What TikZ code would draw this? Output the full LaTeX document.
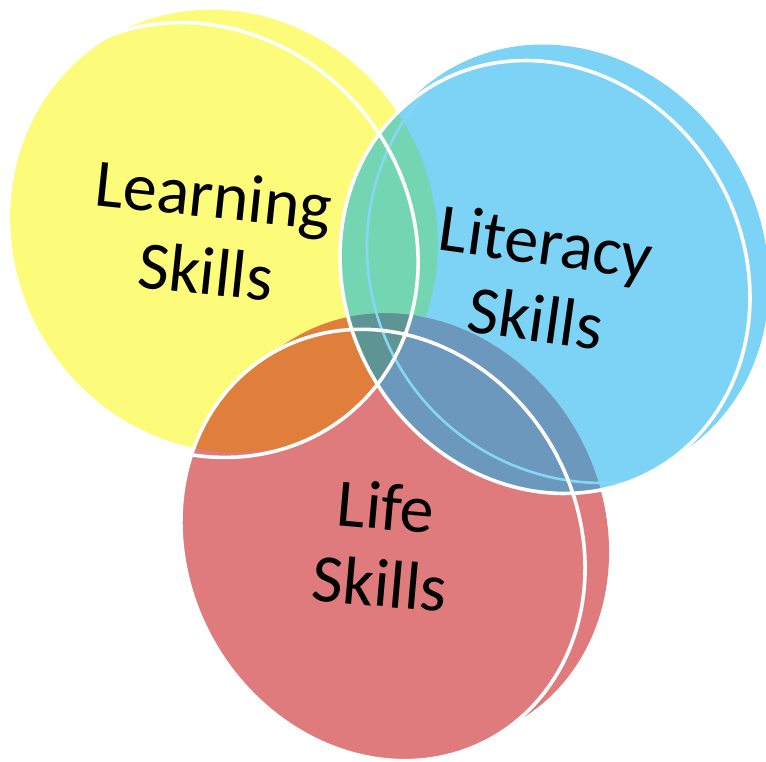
\documentclass[tikz,border=0pt]{standalone}
\usepackage{fontspec}
\setmainfont{Carlito}
\definecolor{yellowc}{HTML}{FCFB7A}
\definecolor{bluec}{HTML}{7DD3F5}
\definecolor{redc}{HTML}{DF7B7C}
\definecolor{greenc}{HTML}{74D5B3}
\definecolor{orangec}{HTML}{E07E3B}
\definecolor{steelc}{HTML}{6C98BD}
\definecolor{tealc}{HTML}{5E9494}
\definecolor{lightb}{HTML}{86D6F6}
\begin{document}
\begin{tikzpicture}[x=1pt,y=-1pt,
  wline/.style={draw=white,line width=3.6pt},
  lline/.style={draw=lightb,line width=2.6pt},
  lbl/.style={align=center,text=black,font=\fontsize{68}{77}\selectfont,inner sep=0pt}]
\useasboundingbox (0,0) rectangle (766,762);
% ellipses: centre, semi-axes, angle (image coordinates, y downwards)
\def\EY{plot[domain=0:360,samples=181] ({224+225*cos(\x)*cos(60)-210*sin(\x)*sin(60)},{231+225*cos(\x)*sin(60)+210*sin(\x)*cos(60)}) -- cycle}
\def\WY{plot[domain=0:360,samples=181] ({203+227*cos(\x)*cos(48)-205*sin(\x)*sin(48)},{240+227*cos(\x)*sin(48)+205*sin(\x)*cos(48)}) -- cycle}
\def\YU{\WY (100,-10) -- (520,-10) -- (520,316) -- (100,316) -- cycle}
\def\WB{plot[domain=0:360,samples=181] ({545+222*cos(\x)*cos(60)-199*sin(\x)*sin(60)},{277+222*cos(\x)*sin(60)+199*sin(\x)*cos(60)}) -- cycle}
\def\EB{plot[domain=0:360,samples=181] ({562+224*cos(\x)*cos(60)-201*sin(\x)*sin(60)},{263+224*cos(\x)*sin(60)+201*sin(\x)*cos(60)}) -- cycle}
\def\FB{\WB \EB}
\def\WR{plot[domain=0:360,samples=181] ({383+221.7*cos(\x)*cos(60.7)-195.5*sin(\x)*sin(60.7)},{545+221.7*cos(\x)*sin(60.7)+195.5*sin(\x)*cos(60.7)}) -- cycle}
\def\ER{plot[domain=0:360,samples=181] ({407+221.7*cos(\x)*cos(60.7)-195.5*sin(\x)*sin(60.7)},{529+221.7*cos(\x)*sin(60.7)+195.5*sin(\x)*cos(60.7)}) -- cycle}
\def\FR{\WR \ER}
% base fills
\begin{scope} \clip \YU; \fill[yellowc] \EY; \end{scope}
\fill[bluec] \FB;
\fill[redc] \FR;
% overlaps
\begin{scope} \clip \EY; \clip \YU; \fill[greenc] \FB; \end{scope}
\begin{scope} \clip \EY; \clip \YU; \fill[orangec] \FR; \end{scope}
\begin{scope} \clip \FB; \fill[steelc] \FR; \end{scope}
\begin{scope} \clip \EY; \clip \YU; \clip \FB; \fill[tealc] \FR; \end{scope}
% light inner line of the blue set
\begin{scope} \clip \FB; \draw[lline] (603,247) circle (236); \end{scope}
% white outlines
\draw[wline] \WY;
\draw[wline] \WB;
\draw[wline] \WR;
% labels
\node[lbl,rotate=-6] (learn) at (210,233) {Learning\\Skills};
\node[lbl,rotate=-8] (liter) at (541,280) {Literacy\\Skills};
\node[lbl,rotate=-5] (life) at (383,545) {Life\\Skills};
\end{tikzpicture}
\end{document}
